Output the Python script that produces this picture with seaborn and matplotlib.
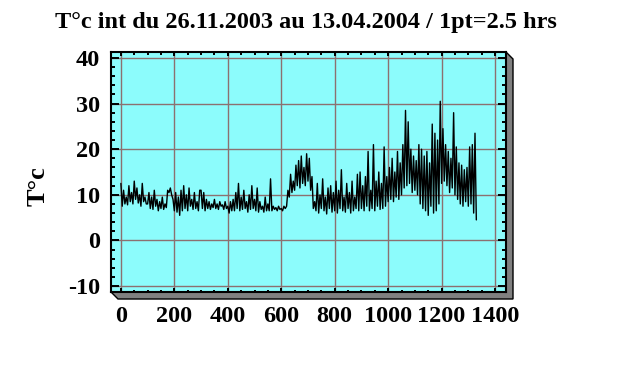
import numpy as np
import pandas as pd
import seaborn as sns
import matplotlib
matplotlib.use("Agg")
import matplotlib.pyplot as plt
from matplotlib.patches import Polygon

# one reading every 5 points (1pt = 2.5 hrs)
temp_0_395 = [
    12.5, 7.5, 11.0, 8.0, 9.5, 7.8, 12.0, 8.5, 10.5, 8.0, 13.0, 9.0, 11.5, 8.2, 10.0, 7.5, 12.5, 8.5, 9.5, 8.0,
    8.0, 10.5, 7.0, 9.5, 6.8, 11.0, 7.5, 9.0, 6.5, 8.5, 7.0, 9.5, 6.8, 8.0, 7.2, 11.0, 10.5, 11.5, 10.0, 9.0,
    6.5, 10.5, 6.2, 9.5, 5.5, 11.0, 6.5, 12.0, 7.0, 10.0, 6.5, 11.5, 7.5, 9.0, 6.8, 10.5, 7.0, 8.5, 6.5, 11.0,
    11.0, 7.0, 10.5, 6.5, 9.0, 7.0, 8.5, 6.8, 8.0, 7.2, 9.0, 7.0, 8.0, 6.8, 8.5, 7.5, 7.8, 6.8, 8.5, 7.0,
]
temp_400_795 = [
    7.5, 6.0, 8.5, 6.5, 9.0, 6.5, 10.5, 7.0, 12.5, 6.5, 9.5, 6.8, 11.0, 7.0, 8.5, 6.2, 10.0, 6.8, 12.0, 7.0,
    9.0, 6.5, 11.5, 6.2, 8.5, 6.8, 7.5, 6.2, 9.5, 6.5, 8.0, 6.5, 13.5, 6.5, 7.5, 6.8, 7.2, 6.5, 7.5, 6.8,
    7.0, 6.5, 7.5, 7.0, 7.5, 11.0, 9.5, 14.5, 10.5, 13.0, 11.0, 16.5, 12.0, 17.5, 11.5, 18.5, 12.5, 16.0, 12.0, 19.0,
    13.0, 18.0, 11.0, 14.0, 7.0, 8.5, 6.5, 12.5, 6.0, 10.0, 7.0, 13.5, 6.5, 9.5, 5.8, 11.5, 7.0, 12.0, 6.2, 10.5,
]
temp_800_1195 = [
    6.5, 13.0, 6.0, 11.0, 7.0, 15.5, 6.5, 9.5, 6.2, 12.5, 7.0, 10.5, 6.0, 13.0, 6.5, 9.5, 7.0, 14.5, 6.5, 15.0,
    7.0, 12.0, 6.5, 14.0, 7.5, 19.5, 6.5, 11.0, 7.0, 21.0, 6.5, 13.0, 7.5, 15.0, 6.8, 12.5, 7.0, 20.5, 7.5, 14.0,
    8.5, 16.0, 9.0, 18.0, 8.5, 15.0, 9.5, 19.5, 9.0, 17.0, 10.0, 21.0, 11.5, 28.5, 12.0, 26.0, 12.5, 20.0, 10.5, 18.5,
    11.0, 17.5, 10.0, 21.0, 8.0, 20.0, 7.0, 18.5, 6.5, 19.5, 5.5, 17.0, 7.5, 25.5, 6.0, 23.5, 6.5, 22.0, 8.0, 30.5,
]
temp_1200_end = [
    12.5, 24.5, 13.0, 21.0, 12.0, 19.5, 10.5, 18.0, 11.5, 28.0, 10.0, 20.5, 9.0, 17.0, 8.0, 16.5, 7.5, 15.5, 8.5, 16.0,
    7.5, 20.5, 8.0, 21.0, 6.0, 23.5, 4.5,
]

temps = temp_0_395 + temp_400_795 + temp_800_1195 + temp_1200_end
points = np.arange(len(temps)) * 5

x_ticks = [0, 200, 400, 600, 800, 1000, 1200, 1400]
y_ticks = [-10, 0, 10, 20, 30, 40]

df = pd.DataFrame({"pt": points, "temp": temps})

sns.set_style("ticks")
plt.rcParams["font.family"] = ["Liberation Serif", "DejaVu Serif"]
plt.rcParams["font.weight"] = "bold"
plt.rcParams["text.color"] = "black"
plt.rcParams["axes.labelcolor"] = "black"
plt.rcParams["axes.unicode_minus"] = False

fig = plt.figure(figsize=(6.3, 3.68), dpi=100, facecolor="white")
L, R, B, T = 111 / 630, 506 / 630, 1 - 292 / 368, 1 - 52 / 368
ax = fig.add_axes([L, B, R - L, T - B])
ax.set_facecolor("#8cfcfc")

# grey 3D shadow behind the frame
dx, dy = 7 / 630, 7 / 368
shadow = Polygon([(L, B), (L + dx, B - dy), (R + dx, B - dy), (R + dx, T - dy), (R, T), (R, B)],
                 closed=True, transform=fig.transFigure, facecolor="#808080",
                 edgecolor="black", lw=1, zorder=-1)
fig.patches.append(shadow)

sns.lineplot(data=df, x="pt", y="temp", color="black", lw=1, ax=ax, zorder=3)

ax.set_xlim(-37, 1441)
ax.set_ylim(-11.3, 41.3)
ax.set_xticks(x_ticks)
ax.set_yticks(y_ticks)
ax.set_xticks(np.arange(-0, 1450, 50), minor=True)
ax.set_yticks(np.arange(-10, 42, 2), minor=True)
ax.grid(True, which="major", color="#8c7070", lw=1)

ax.tick_params(axis="both", which="both", direction="in", top=True, right=True,
               width=1.4, colors="black", labelsize=17.5)
ax.tick_params(axis="y", which="major", length=5.5, pad=8)
ax.tick_params(axis="y", which="minor", length=3)
ax.tick_params(axis="x", which="major", length=3, pad=10)
ax.tick_params(axis="x", which="minor", length=1.8)
for lab in ax.get_xticklabels() + ax.get_yticklabels():
    lab.set_fontweight("bold")
for sp in ax.spines.values():
    sp.set_linewidth(1.5)
    sp.set_color("black")

ax.set_xlabel("")
ax.set_ylabel("T°c", fontsize=19, fontweight="bold")
ax.yaxis.set_label_coords(-0.155, 0.44)

fig.suptitle("T°c int du 26.11.2003 au 13.04.2004 / 1pt=2.5 hrs",
             x=0.486, y=0.94, va="center", fontsize=17.5, fontweight="bold")

fig.savefig("out.png", dpi=100)
